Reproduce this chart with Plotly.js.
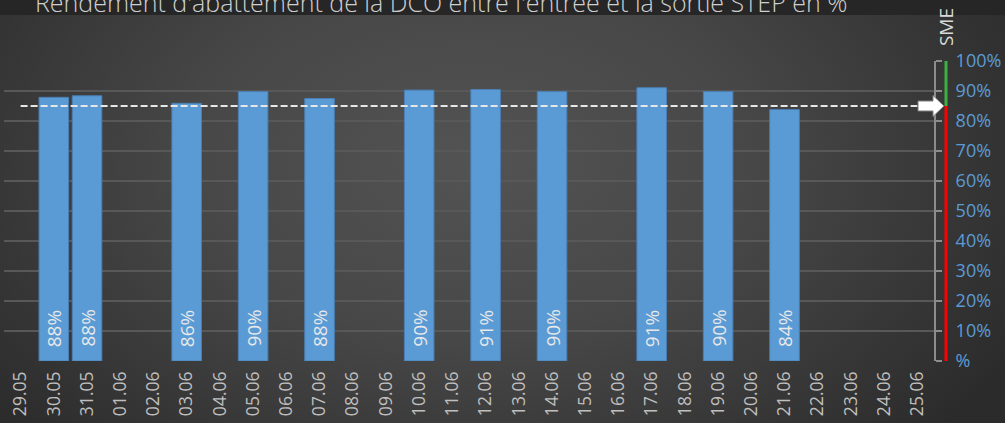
<!DOCTYPE html>
<html><head><meta charset="utf-8">
<script src="https://cdn.plot.ly/plotly-3.0.1.min.js"></script>
<style>
html,body{margin:0;padding:0;background:#2a2a2a;}
#wrap{width:1005px;height:423px;position:relative;overflow:hidden;
background: linear-gradient(to bottom,#262626 0,#262626 15px,rgba(0,0,0,0) 15px),
 radial-gradient(ellipse 62% 95% at 47% 38%, #535353 0%, #474747 45%, #2b2b2b 100%);}
#chart{width:1005px;height:423px;}
</style></head>
<body><div id="wrap"><div id="chart"></div></div>
<script>
const categories = ['29.05','30.05','31.05','01.06','02.06','03.06','04.06','05.06','06.06','07.06',
  '08.06','09.06','10.06','11.06','12.06','13.06','14.06','15.06','16.06','17.06',
  '18.06','19.06','20.06','21.06','22.06','23.06','24.06','25.06'];
const values = [null,87.9,88.4,null,null,85.9,null,89.8,null,87.5,
  null,null,90.3,null,90.5,null,89.8,null,null,91.1,
  null,89.8,null,83.8,null,null,null,null];
const threshold = 85;
const yTickVals = [0,10,20,30,40,50,60,70,80,90,100];
const yTickText = ['%','10%','20%','30%','40%','50%','60%','70%','80%','90%','100%'];
const titleText = "Rendement d'abattement de la DCO entre l'entrée et la sortie STEP en %";
const sideLabel = 'SME';

const FONT = 'Open Sans, Noto Sans, sans-serif';
const idx = categories.map((c,i)=>i);

const bars = {
  type:'bar', x: idx, y: values,
  marker:{color:'#5b9bd5', line:{color:'#4a7fb3', width:1}},
  hoverinfo:'skip', showlegend:false
};
const thr = {
  type:'scatter', mode:'lines',
  x:[0, categories.length-1], y:[threshold, threshold],
  line:{color:'#e6e6e6', width:2, dash:'7px,3px'}, hoverinfo:'skip', showlegend:false
};

const annotations = [];
values.forEach((v,i)=>{
  if(v!==null){
    annotations.push({x:i, y:0, xref:'x', yref:'y', text: Math.round(v)+'%',
      textangle:-90, showarrow:false, yanchor:'bottom', xanchor:'center', yshift:12,
      font:{family:FONT, size:19, color:'#e8e8e8'}});
  }
});
annotations.push({xref:'paper', yref:'paper', x:1, xshift:12, y:1.113, text:sideLabel,
  textangle:-90, showarrow:false, xanchor:'center', yanchor:'middle',
  font:{family:FONT, size:19, color:'#d9d9d9'}});

const shapes = [
  {type:'line', xref:'paper', xsizemode:'pixel', xanchor:1, x0:12, x1:12, yref:'y', y0:threshold, y1:100,
    line:{color:'#3cb043', width:3}},
  {type:'line', xref:'paper', xsizemode:'pixel', xanchor:1, x0:12, x1:12, yref:'y', y0:0, y1:threshold,
    line:{color:'#ff0000', width:3}},
  {type:'path', xref:'paper', xsizemode:'pixel', xanchor:1, yref:'y', ysizemode:'pixel', yanchor:threshold,
    path:'M-16,-5 L-1,-5 L-1,-10.5 L10,0 L-1,10.5 L-1,5 L-16,5 Z',
    fillcolor:'#ffffff', line:{color:'#7f7f7f', width:1}, layer:'above'}
];

const layout = {
  width:1005, height:423,
  margin:{l:4, r:71, t:61, b:62, pad:0},
  paper_bgcolor:'rgba(0,0,0,0)', plot_bgcolor:'rgba(0,0,0,0)',
  title:{text:titleText, x:0.439, xanchor:'center', xref:'container', yref:'container', y:0.972, yanchor:'bottom',
    font:{family:FONT, size:25, color:'#cfcfcf', weight:300}},
  bargap:0.11,
  xaxis:{type:'linear', range:[-0.5, categories.length-0.5], tickangle:-90,
    tickvals: idx, ticktext: categories, ticklabelstandoff:6,
    tickfont:{family:FONT, size:17.5, color:'#bfbfbf'}, showgrid:false, showline:false, zeroline:false, ticks:''},
  yaxis:{side:'right', range:[0,100], tickvals:yTickVals, ticktext:yTickText,
    tickfont:{family:FONT, size:18, color:'#5b9bd5'},
    gridcolor:'#585858', gridwidth:1.5, showline:true, linecolor:'#8c8c8c', linewidth:2,
    ticks:'outside', ticklen:6, tickwidth:2, tickcolor:'#8c8c8c', ticklabelstandoff:10, zeroline:false},
  annotations: annotations,
  shapes: shapes
};
Plotly.newPlot('chart', [bars, thr], layout, {displayModeBar:false, staticPlot:true});
</script>
</body></html>
